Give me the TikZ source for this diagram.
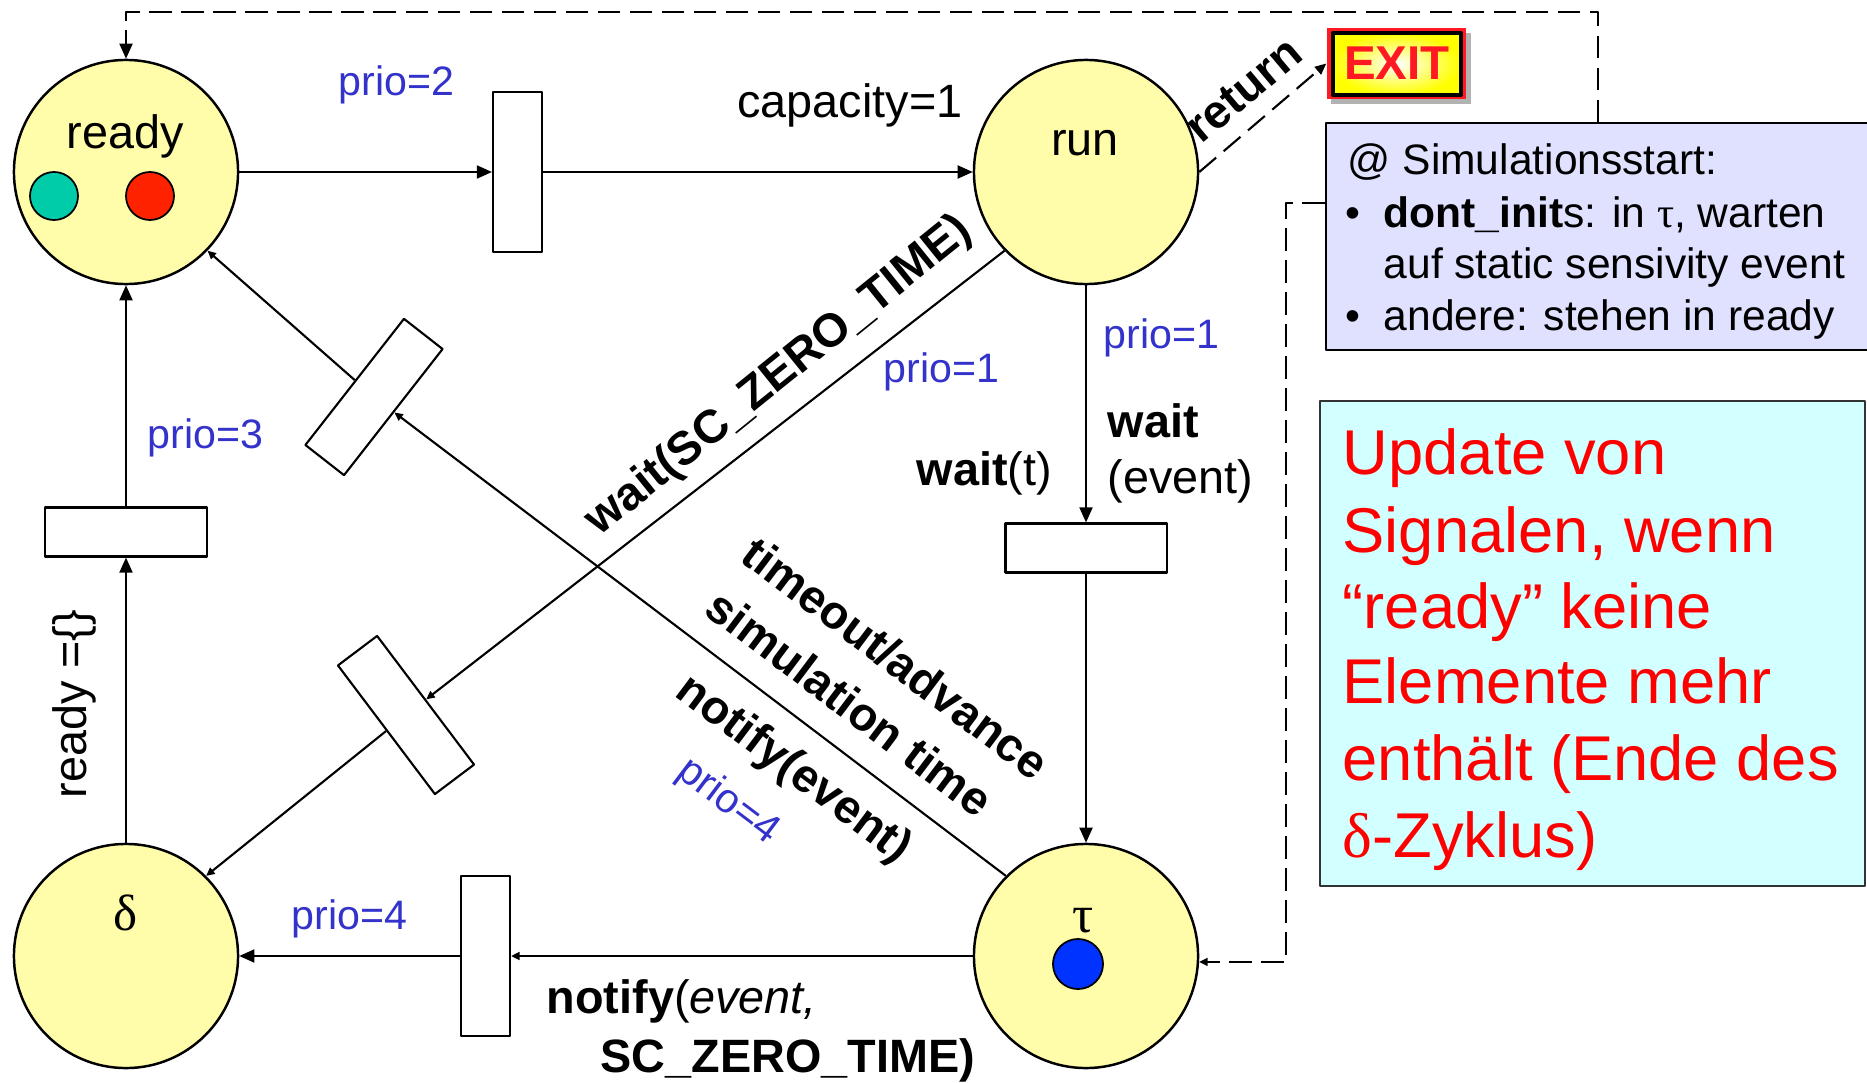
\documentclass[tikz,border=0pt]{standalone}
\usepackage{fontspec}
\setmainfont{Liberation Sans}
\newfontfamily\serifgr{Liberation Serif}
\usetikzlibrary{arrows.meta}
\definecolor{placeyellow}{RGB}{255,252,170}
\definecolor{prioblue}{RGB}{51,51,204}
\definecolor{tokteal}{RGB}{0,204,170}
\definecolor{tokred}{RGB}{255,34,0}
\definecolor{tokblue}{RGB}{0,51,255}
\definecolor{simfill}{RGB}{224,224,255}
\definecolor{notefill}{RGB}{210,255,255}
\definecolor{exitred}{RGB}{255,25,35}
\newcommand\mainfs{\fontsize{13.3pt}{16pt}\selectfont}
\newcommand\priofs{\fontsize{11.7pt}{14pt}\selectfont}
\newcommand\simfs{\fontsize{12.1pt}{14.6pt}\selectfont}
\newcommand\notefs{\fontsize{18pt}{21.8pt}\selectfont}
\begin{document}
\begin{tikzpicture}[x=0.01cm, y=-0.01cm, line join=round,
  plc/.style={circle, draw, line width=0.7pt, fill=placeyellow, minimum size=2.24cm, inner sep=0pt},
  trn/.style={rectangle, draw, line width=0.6pt, fill=white, inner sep=0pt},
  tokn/.style={circle, draw, line width=0.5pt, minimum size=0.48cm, inner sep=0pt},
  conn/.style={line width=0.6pt},
  bigtip/.style={-{Triangle[length=4.3pt,width=3.7pt]}},
  midtip/.style={-{Triangle[length=3.2pt,width=2.8pt]}},
  smalltip/.style={-{Triangle[length=2.4pt,width=2.2pt]}},
  dashln/.style={dash pattern=on 6.3pt off 2.8pt, line width=0.6pt},
  lbl/.style={inner sep=0pt, font=\mainfs},
  prio/.style={inner sep=0pt, font=\priofs, text=prioblue},
  siml/.style={inner sep=0pt, font=\simfs, anchor=base west},
  notel/.style={inner sep=0pt, font=\notefs, text=red, anchor=base west}]
\useasboundingbox (0,0) rectangle (1867,1082);

% places
\node[plc] (ready) at (126,172) {};
\node[plc] (run) at (1086,172) {};
\node[plc] (delta) at (126,956) {};
\node[plc] (tau) at (1086,956) {};
\node[lbl, anchor=base] (readylbl) at (125,149) {ready};
\node[lbl, anchor=base] (runlbl) at (1085,156) {run};
\node[inner sep=0pt, font=\fontsize{14.5pt}{16pt}\serifgr, anchor=base] (deltalbl) at (126,930) {δ};
\node[inner sep=0pt, font=\fontsize{15pt}{16pt}\serifgr, anchor=base] (taulbl) at (1083,932) {τ};

% tokens
\node[tokn, fill=tokteal] (tok1) at (54,196) {};
\node[tokn, fill=tokred] (tok2) at (150,196) {};
\node[tokn, fill=tokblue, minimum size=0.5cm] (tok3) at (1078,964) {};

% transitions
\node[trn, minimum width=0.49cm, minimum height=1.60cm] (t1) at (517.5,172) {};
\node[trn, minimum width=1.61cm, minimum height=0.49cm] (t2) at (1086,548) {};
\node[trn, minimum width=1.62cm, minimum height=0.49cm] (t3) at (126,532) {};
\node[trn, minimum width=0.49cm, minimum height=1.60cm] (tb) at (485.5,956) {};
\node[trn, minimum width=1.61cm, minimum height=0.49cm, rotate=-53] (t4) at (406,715) {};
\node[trn, minimum width=1.60cm, minimum height=0.49cm, rotate=52] (t5) at (374,397) {};

% connectors
\draw[conn, bigtip] (ready) -- (t1);
\draw[conn, bigtip] (t1) -- (run);
\draw[conn, bigtip] (run) -- (t2);
\draw[conn, bigtip] (t2) -- (tau);
\draw[conn, smalltip] (tau) -- (tb);
\draw[conn, bigtip] (tb) -- (delta);
\draw[conn, bigtip] (delta) -- (t3);
\draw[conn, bigtip] (t3) -- (ready);
\draw[conn, smalltip] (run.224) -- (t4);
\draw[conn, smalltip] (t4) -- (delta.45);
\draw[conn, smalltip] (tau.135) -- (t5);
\draw[conn, smalltip] (t5) -- (ready.316);

% EXIT sign
\fill[black!30] (1331,33) rectangle (1471,104);
\node[fill=exitred, minimum width=1.39cm, minimum height=0.71cm, inner sep=0pt] (exit) at (1396.5,63.5) {};
\shade[inner color=white, outer color=yellow] (1333,33) rectangle (1460,95);
\draw[line width=1.25pt] (1332.7,33) rectangle (1460.7,95);
\node[inner sep=0pt, font=\fontsize{13.5pt}{15pt}\selectfont\bfseries, text=exitred, anchor=base] (exittxt) at (1397,80) {EXIT};

% boxes
\node[draw, line width=0.7pt, fill=simfill, minimum width=5.42cm, minimum height=2.27cm, inner sep=0pt] (sim) at (1597,236.5) {};
\node[siml] (s1) at (1347,175) {@ Simulationsstart:};
\node[inner sep=0pt, font=\simfs, anchor=base] (b1) at (1353,227) {•};
\node[siml] (s2) at (1383,227) {\textbf{dont\_init}s: in {\serifgr τ}, warten};
\node[siml] (s3) at (1383,278) {auf static sensivity event};
\node[inner sep=0pt, font=\simfs, anchor=base] (b2) at (1353,330) {•};
\node[siml] (s4) at (1383,330) {andere: stehen in ready};

\node[draw=black!80, line width=0.6pt, fill=notefill, minimum width=5.45cm, minimum height=4.85cm, inner sep=0pt] (note) at (1592.5,643.5) {};
\node[notel] (n1) at (1342,474) {Update von};
\node[notel] (n2) at (1342,552) {Signalen, wenn};
\node[notel] (n3) at (1342,628) {“ready” keine};
\node[notel] (n4) at (1342,703) {Elemente mehr};
\node[notel] (n5) at (1342,780) {enthält (Ende des};
\node[notel] (n6) at (1342,857) {{\serifgr δ}-Zyklus)};

% dashed connectors
\coordinate (tr) at (1598,12);
\coordinate (tl) at (126,12);
\draw[dashln, bigtip] (sim.north -| tr) -- (tr) -- (tl) -- (ready.north);
\coordinate (bl) at (1286,203);
\draw[dashln, smalltip] (sim.west |- bl) -- (bl) |- (tau.-3);
\draw[dashln, midtip] (run.east) -- (exit.west);

% labels
\node[prio, anchor=base] (p2) at (396.5,96) {prio=2};
\node[lbl, anchor=base] (cap) at (850,118) {capacity=1};
\node[lbl, font=\mainfs\bfseries, rotate=40] (ret) at (1244,90) {return};
\node[prio, anchor=base west] (p3) at (147,448) {prio=3};
\node[lbl, rotate=90] (rempty) at (74,704) {ready =\{\}};
\node[prio, anchor=base west] (p1a) at (1103,348) {prio=1};
\node[prio, anchor=base west] (p1b) at (883,382) {prio=1};
\node[lbl, anchor=base west, font=\mainfs\bfseries] (w1) at (1107,437) {wait};
\node[lbl, anchor=base west] (w2) at (1107,493) {(event)};
\node[lbl, anchor=base west] (wt) at (916,485) {\textbf{wait}(t)};
\node[lbl, font=\mainfs\bfseries, rotate=38.9, anchor=base] (wsz) at (787,386) {wait(SC\_ZERO\_TIME)};
\node[lbl, font=\mainfs\bfseries, rotate=-37] (to1) at (896,658) {timeout/advance};
\node[lbl, font=\mainfs\bfseries, rotate=-37] (to2) at (850,703) {simulation time};
\node[lbl, font=\mainfs\bfseries, rotate=-37] (nt) at (793,770) {notify(event)};
\node[prio, rotate=-37] (p4a) at (728,802) {prio=4};
\node[prio, anchor=base west] (p4b) at (291,929) {prio=4};
\node[lbl, anchor=base west] (nb1) at (546,1013) {\textbf{notify}(\textit{event,}};
\node[lbl, anchor=base west, font=\mainfs\bfseries] (nb2) at (600,1072) {SC\_ZERO\_TIME)};
\end{tikzpicture}
\end{document}
